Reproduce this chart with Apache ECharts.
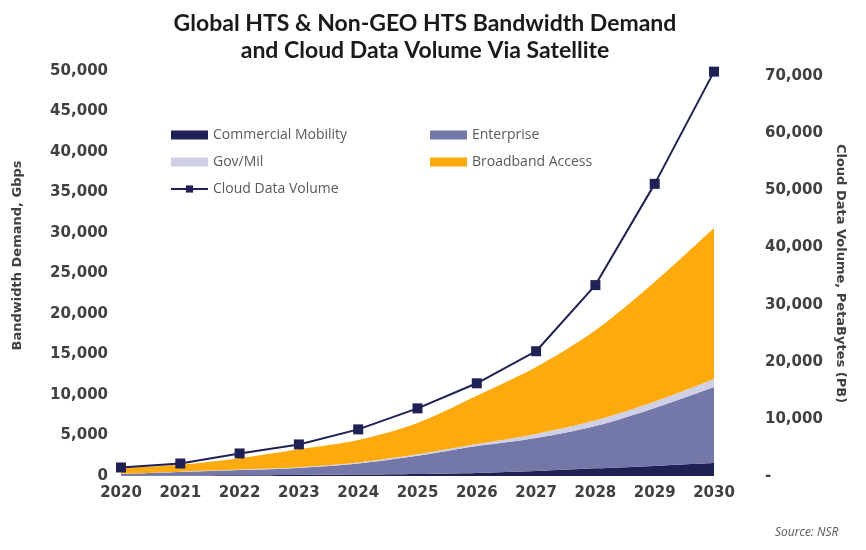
<!DOCTYPE html>
<html>
<head>
<meta charset="utf-8">
<script src="https://cdn.jsdelivr.net/npm/echarts@6/dist/echarts.min.js"></script>
<style>
html,body{margin:0;padding:0;background:#fff;}
#chart{width:866px;height:550px;}
</style>
</head>
<body>
<div id="chart"></div>
<script>
const years = ['2020','2021','2022','2023','2024','2025','2026','2027','2028','2029','2030'];
const commercialMobility = [50, 70, 100, 130, 170, 250, 370, 620, 950, 1250, 1600];
const enterprise = [200, 430, 640, 870, 1380, 2250, 3330, 4080, 5220, 7150, 9390];
const govMil = [20, 40, 60, 90, 130, 180, 250, 500, 700, 800, 1000];
const broadbandAccess = [730, 860, 1400, 2210, 2770, 3870, 5950, 8250, 11130, 14750, 18630];
const cloudDataVolume = [1490, 2190, 3950, 5530, 8160, 11840, 16230, 21840, 33420, 51140, 70790];

const leftTicks = {min: 0, max: 50000, interval: 5000};
const rightTicks = {min: 0, max: 70900, interval: 10000};

const fmt = v => v.toLocaleString('en-US');
const tickFont = {fontFamily: 'DejaVu Sans', fontWeight: 'bold', fontSize: 15, color: '#404040'};
const legendText = {fontFamily: 'Open Sans', fontSize: 14, color: '#595959'};

const chart = echarts.init(document.getElementById('chart'));
function area(name, data, color) {
  return {
    name, type: 'line', stack: 'bw', data, smooth: 0.3, showSymbol: false, symbol: 'none',
    lineStyle: {width: 0}, areaStyle: {color, opacity: 1}, itemStyle: {color}, z: 2
  };
}
chart.setOption({
  animation: false,
  title: {
    text: 'Global HTS & Non-GEO HTS Bandwidth Demand\nand Cloud Data Volume Via Satellite',
    left: 420, top: 5, textAlign: 'center',
    textStyle: {fontFamily: 'Lato', fontWeight: 'bold', fontSize: 23, lineHeight: 27, color: '#1a1a1a'}
  },
  grid: {left: 121, right: 152, top: 71, bottom: 74},
  legend: [
    {
      data: [{name: 'Commercial Mobility', icon: 'rect'}, {name: 'Gov/Mil', icon: 'rect'}, {name: 'Cloud Data Volume'}],
      orient: 'vertical', left: 165, top: 123, itemGap: 13, itemWidth: 37, itemHeight: 9,
      textStyle: legendText
    },
    {
      data: [{name: 'Enterprise', icon: 'rect'}, {name: 'Broadband Access', icon: 'rect'}],
      orient: 'vertical', left: 425, top: 123, itemGap: 13, itemWidth: 37, itemHeight: 9,
      textStyle: legendText
    }
  ],
  xAxis: {
    type: 'category', data: years, boundaryGap: false,
    axisLine: {show: false}, axisTick: {show: false},
    axisLabel: Object.assign({margin: 10}, tickFont)
  },
  yAxis: [
    {
      type: 'value', position: 'left', min: leftTicks.min, max: leftTicks.max, interval: leftTicks.interval,
      name: 'Bandwidth Demand, Gbps', nameLocation: 'middle', nameGap: 97, nameRotate: 90,
      nameTextStyle: {fontFamily: 'DejaVu Sans', fontWeight: 'bold', fontSize: 13, color: '#404040', padding: [0,0,0,36]},
      splitLine: {show: false}, axisLine: {show: false}, axisTick: {show: false},
      axisLabel: Object.assign({margin: 13, formatter: v => fmt(v)}, tickFont)
    },
    {
      type: 'value', position: 'right', min: rightTicks.min, max: rightTicks.max, interval: rightTicks.interval,
      name: 'Cloud Data Volume, PetaBytes (PB)', nameLocation: 'middle', nameGap: 118, nameRotate: -90,
      nameTextStyle: {fontFamily: 'DejaVu Sans', fontWeight: 'bold', fontSize: 13, color: '#404040'},
      splitLine: {show: false}, axisLine: {show: false}, axisTick: {show: false},
      axisLabel: Object.assign({margin: 51, showMaxLabel: false, formatter: v => v === 0 ? '-' : fmt(v)}, tickFont)
    }
  ],
  series: [
    area('Commercial Mobility', commercialMobility, '#1f2155'),
    area('Enterprise', enterprise, '#7378a8'),
    area('Gov/Mil', govMil, '#cfd0e6'),
    area('Broadband Access', broadbandAccess, '#fdaa0e'),
    {
      name: 'Cloud Data Volume', type: 'line', yAxisIndex: 1, data: cloudDataVolume,
      symbol: 'rect', symbolSize: 10, showSymbol: true,
      lineStyle: {color: '#1f2155', width: 2}, itemStyle: {color: '#1f2155'}, z: 5
    }
  ],
  graphic: [{
    type: 'text', left: 775, top: 527,
    style: {text: 'Source: NSR', fontFamily: 'Open Sans', fontStyle: 'italic', fontSize: 12, fill: '#595959'}
  }]
});
</script>
</body>
</html>
